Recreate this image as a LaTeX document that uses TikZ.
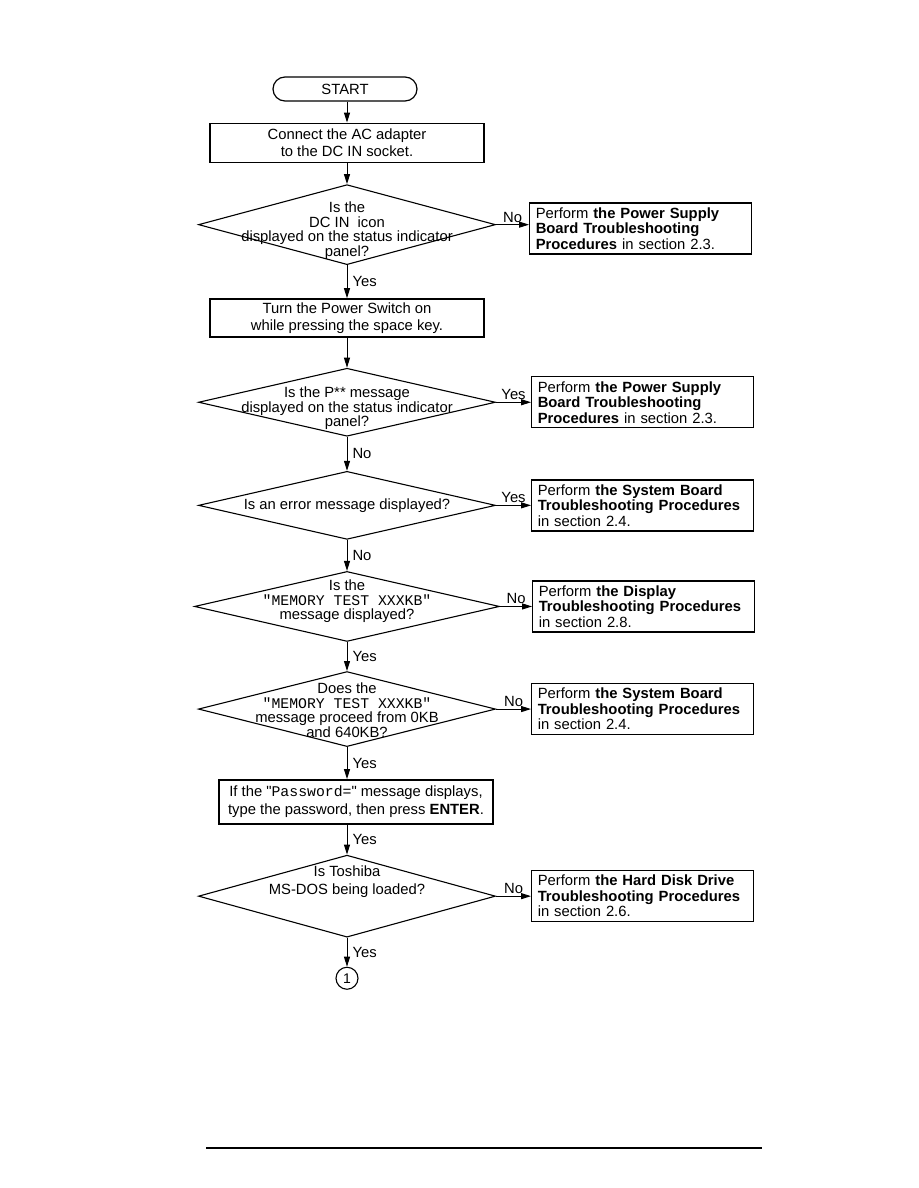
\documentclass[tikz,border=0pt]{standalone}
\usepackage{fontspec}
\setmainfont{Liberation Sans}
\newfontfamily\codefont{Liberation Mono}
\usetikzlibrary{arrows.meta,positioning,shapes.geometric}

\begin{document}
\begin{tikzpicture}[x=1pt,y=-1pt,
  font=\fontsize{14.8}{17.5}\selectfont,
  node distance=30pt and 35pt,
  startbox/.style={draw,rounded corners=12pt,minimum width=144pt,minimum height=24pt,
                   inner sep=0pt,line width=1.2pt},
  box/.style={draw,align=center,minimum width=274pt,inner sep=0pt,line width=1.5pt},
  decision/.style={draw,diamond,inner sep=0pt,minimum width=297pt,line width=1.1pt},
  qtext/.style={align=center,inner sep=0pt,font=\fontsize{14.8}{14.5}\selectfont},
  result/.style={draw,align=left,text width=210pt,minimum height=51pt,inner xsep=6pt,
                 inner ysep=0pt,line width=1.4pt,font=\fontsize{14.8}{15.5}\selectfont},
  link/.style={circle,draw,minimum size=22pt,inner sep=0pt,line width=1.1pt,
               font=\fontsize{14}{14}\selectfont},
  flow/.style={-{Triangle[length=10pt,width=6pt]},line width=1pt},
  answer/.style={inner sep=2pt,inner xsep=5pt}
]
\useasboundingbox (0,0) rectangle (918,1188);

% main column
\node[startbox] (start) at (345,89) {START};
\node[box,minimum height=39pt,below=21pt of start,xshift=2pt] (adapter)
  {Connect the AC adapter\\to the DC IN socket.};
\node[decision,minimum height=80pt,below=21pt of adapter] (dcin) {};
\node[qtext,yshift=-6pt] (dcintext) at (dcin)
  {Is the\\DC IN\ \ icon\\displayed on the status indicator\\panel?};
\node[box,minimum height=38pt,below=33pt of dcin] (power)
  {Turn the Power Switch on\\while pressing the space key.};
\node[decision,minimum height=68pt,below=30pt of power] (pmsg) {};
\node[qtext,yshift=-6pt] (pmsgtext) at (pmsg)
  {Is the P** message\\displayed on the status indicator\\panel?};
\node[decision,minimum height=68pt,below=34pt of pmsg] (err) {};
\node[qtext] (errtext) at (err) {Is an error message displayed?};
\node[decision,minimum width=305pt,minimum height=70pt,below=31pt of err] (memdisp) {};
\node[qtext,yshift=5pt] (memdisptext) at (memdisp)
  {Is the\\{\codefont"MEMORY TEST XXXKB"}\\message displayed?};
\node[decision,minimum height=75pt,below=29pt of memdisp] (memrun) {};
\node[qtext,yshift=-1pt] (memruntext) at (memrun)
  {Does the\\{\codefont"MEMORY TEST XXXKB"}\\message proceed from 0KB\\and 640KB?};
\node[box,minimum height=44pt,below=32pt of memrun,xshift=9pt] (passwd)
  {If the \textquotedbl{\codefont Password=}\textquotedbl{} message displays,\\type the password, then press \textbf{ENTER}.};
\node[decision,minimum height=82pt,below=30pt of passwd.south -| memrun.south] (dos) {};
\node[qtext,font=\fontsize{14.8}{18}\selectfont,yshift=14pt] (dostext) at (dos)
  {Is Toshiba\\MS-DOS being loaded?};
\node[link,below=29pt of dos] (next) {1};

% side boxes
\node[result,right=33pt of dcin,yshift=-4pt] (psb1)
  {Perform \textbf{the Power Supply}\\\textbf{Board Troubleshooting}\\\textbf{Procedures} in section 2.3.};
\node[result,right=of pmsg] (psb2)
  {Perform \textbf{the Power Supply}\\\textbf{Board Troubleshooting}\\\textbf{Procedures} in section 2.3.};
\node[result,right=of err] (sysb1)
  {Perform \textbf{the System Board}\\\textbf{Troubleshooting Procedures}\\in section 2.4.};
\node[result,right=32pt of memdisp] (disp)
  {Perform \textbf{the Display}\\\textbf{Troubleshooting Procedures}\\in section 2.8.};
\node[result,right=of memrun] (sysb2)
  {Perform \textbf{the System Board}\\\textbf{Troubleshooting Procedures}\\in section 2.4.};
\node[result,right=of dos] (hdd)
  {Perform \textbf{the Hard Disk Drive}\\\textbf{Troubleshooting Procedures}\\in section 2.6.};

% connectors
\draw[flow] (start.south -| adapter.north) -- (adapter);
\draw[flow] (adapter) -- (dcin);
\draw[flow] (dcin.south) -- node[right,answer] {Yes} (power);
\draw[flow] (power) -- (pmsg);
\draw[flow] (pmsg.south) -- node[right,answer] {No} (err);
\draw[flow] (err.south) -- node[right,answer] {No} (memdisp);
\draw[flow] (memdisp.south) -- node[right,answer] {Yes} (memrun);
\draw[flow] (memrun.south) -- node[right,answer] {Yes} (memrun.south |- passwd.north);
\draw[flow] (passwd.south -| dos.north) -- node[right,answer] {Yes} (dos.north);
\draw[flow] (dos.south) -- node[right,answer] {Yes} (next);

\draw[flow] (dcin.east) -- node[above,answer] {No} (dcin.east -| psb1.west);
\draw[flow] (pmsg.east) -- node[above,answer] {Yes} (psb2);
\draw[flow] (err.east) -- node[above,answer] {Yes} (sysb1);
\draw[flow] (memdisp.east) -- node[above,answer] {No} (disp);
\draw[flow] (memrun.east) -- node[above,answer] {No} (sysb2);
\draw[flow] (dos.east) -- node[above,answer] {No} (hdd);

% footer rule
\draw[line width=1.2pt] (206,1148) -- (762,1148);
\end{tikzpicture}
\end{document}
